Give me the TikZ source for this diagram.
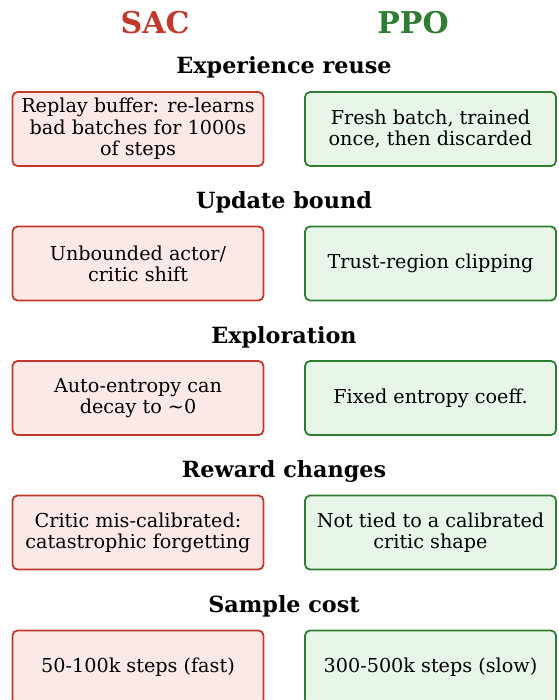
\documentclass[tikz,border=0pt]{standalone}
\usepackage{fontspec}
\setmainfont{DejaVu Serif}
\usetikzlibrary{positioning}
\definecolor{sacred}{HTML}{C0392B}
\definecolor{sacfill}{HTML}{FBE9E7}
\definecolor{ppogreen}{HTML}{2E7D32}
\definecolor{ppofill}{HTML}{E8F5E9}
\tikzset{
  box/.style={rounded corners=5pt, line width=1.8pt, minimum width=251pt,
    minimum height=74pt, align=center, font=\fontsize{19.2}{21.3}\selectfont},
  sacbox/.style={box, draw=sacred, fill=sacfill},
  ppobox/.style={box, draw=ppogreen, fill=ppofill},
  rowtitle/.style={font=\fontsize{22.3}{26}\selectfont\bfseries},
  header/.style={font=\fontsize{30}{36}\selectfont\bfseries}
}
\begin{document}
\begin{tikzpicture}[x=1pt,y=-1pt]
		\useasboundingbox (0,0) rectangle (558,700);

		% Overskrifter
		\node[header, text=sacred] (sac) at (155,22.5) {SAC};
		\node[header, text=ppogreen] (ppo) at (413,22.5) {PPO};

		% Experience reuse
		\node[rowtitle] (t1) at (284,67.5) {Experience reuse};
		\node[sacbox] (s1) at (138,129) {Replay buffer: re-learns\\bad batches for 1000s\\of steps};
		\node[ppobox] (p1) at (430.5,129) {Fresh batch, trained\\once, then discarded};

		% Update bound
		\node[rowtitle] (t2) at (284,202.5) {Update bound};
		\node[sacbox] (s2) at (138,263.5) {Unbounded actor/\\critic shift};
		\node[ppobox] (p2) at (430.5,263.5) {Trust-region clipping};

		% Exploration
		\node[rowtitle] (t3) at (284,337.5) {Exploration};
		\node[sacbox] (s3) at (138,398) {Auto-entropy can\\decay to \char"223C 0};
		\node[ppobox] (p3) at (430.5,398) {Fixed entropy coeff.};

		% Reward changes
		\node[rowtitle] (t4) at (284,471.5) {Reward changes};
		\node[sacbox] (s4) at (138,532.5) {Critic mis-calibrated:\\catastrophic forgetting};
		\node[ppobox] (p4) at (430.5,532.5) {Not tied to a calibrated\\critic shape};

		% Sample cost
		\node[rowtitle] (t5) at (284,606.5) {Sample cost};
		\node[sacbox] (s5) at (138,667.5) {50-100k steps (fast)};
		\node[ppobox] (p5) at (430.5,667.5) {300-500k steps (slow)};
	\end{tikzpicture}
\end{document}
